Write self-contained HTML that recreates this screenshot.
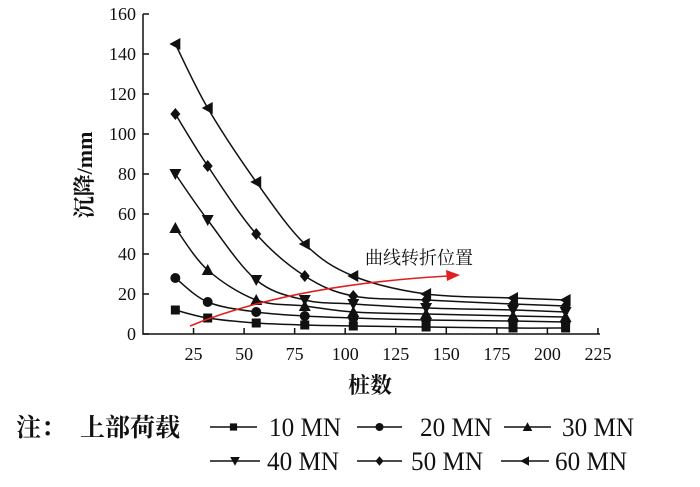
<!DOCTYPE html>
<html><head><meta charset="utf-8"><style>
body{margin:0;background:#fff}
svg text{font-family:"Liberation Serif","Noto Serif CJK SC",serif;fill:#111}
</style></head><body>
<svg id="c" width="700" height="482" viewBox="0 0 700 482"></svg>
<script>
const xs=[16,32,56,80,104,140,183,209];
const s10=[12,8,5.5,4.5,4,3.5,3,3];
const s20=[28,16,11,9,8,7,6.5,6];
const s30=[53,32,17,14,11,10,9,8.5];
const s40=[80,57,27,17,15,13,12,11];
const s50=[110,84,50,29,19,17,15,14];
const s60=[145,113,76,45,29,20,18,17];
const seriesNames=["10 MN","20 MN","30 MN","40 MN","50 MN","60 MN"];
const xTicks=[25,50,75,100,125,150,175,200,225];
const yTicks=[0,20,40,60,80,100,120,140,160];
const NS="http://www.w3.org/2000/svg";
const svg=document.getElementById('c');
const X=v=>143+v*2.022, Y=v=>334-v*2.0;
function mk(t,a,p){const e=document.createElementNS(NS,t);for(const k in a)e.setAttribute(k,a[k]);(p||svg).appendChild(e);return e;}
let ax=mk('path',{d:`M143,14V334H600`,fill:'none',stroke:'#111','stroke-width':1.5});


yTicks.forEach(v=>{mk('line',{x1:143,x2:149,y1:Y(v),y2:Y(v),stroke:'#111','stroke-width':1.5});
 const t=mk('text',{x:136,y:Y(v)+6,'text-anchor':'end','font-size':18});t.textContent=v;
 
 });
xTicks.forEach(v=>{mk('line',{x1:X(v),x2:X(v),y1:334,y2:328,stroke:'#111','stroke-width':1.5});
 const t=mk('text',{x:X(v),y:360,'text-anchor':'middle','font-size':18});t.textContent=v;
 
 });
let yt=mk('text',{x:0,y:0,transform:'translate(92,175) rotate(-90)','text-anchor':'middle','font-size':22,'font-weight':'bold'});yt.textContent='沉降/mm';


let xt=mk('text',{x:370,y:393,'text-anchor':'middle','font-size':22,'font-weight':'bold'});xt.textContent='桩数';


function curve(pts){let d=`M${pts[0][0]},${pts[0][1]}`;for(let i=0;i<pts.length-1;i++){const p0=pts[Math.max(i-1,0)],p1=pts[i],p2=pts[i+1],p3=pts[Math.min(i+2,pts.length-1)];
 d+=`C${p1[0]+(p2[0]-p0[0])/6},${p1[1]+(p2[1]-p0[1])/6} ${p2[0]-(p3[0]-p1[0])/6},${p2[1]-(p3[1]-p1[1])/6} ${p2[0]},${p2[1]}`;}return d;}
function marker(type,x,y,g,s){s=s||1;let e;
 if(type==0)e=mk('rect',{x:x-4.5*s,y:y-4.5*s,width:9*s,height:9*s,fill:'#111'},g);
 else if(type==1)e=mk('circle',{cx:x,cy:y,r:5*s,fill:'#111'},g);
 else if(type==2)e=mk('polygon',{points:`${x},${y-6*s} ${x+6*s},${y+5*s} ${x-6*s},${y+5*s}`,fill:'#111'},g);
 else if(type==3)e=mk('polygon',{points:`${x},${y+6*s} ${x+6*s},${y-5*s} ${x-6*s},${y-5*s}`,fill:'#111'},g);
 else if(type==4)e=mk('polygon',{points:`${x},${y-6*s} ${x+5*s},${y} ${x},${y+6*s} ${x-5*s},${y}`,fill:'#111'},g);
 else e=mk('polygon',{points:`${x-6*s},${y} ${x+5*s},${y-6*s} ${x+5*s},${y+6*s}`,fill:'#111'},g);
 return e;}
[s10,s20,s30,s40,s50,s60].forEach((s,k)=>{const g=mk('g',{});
 
 
 const pts=xs.map((x,i)=>[X(x),Y(s[i])]);
 mk('path',{d:curve(pts),fill:'none',stroke:'#111','stroke-width':1.5},g);
 pts.forEach(p=>{const m=marker(k,p[0],p[1],g);
  
  });});
const ag=mk('g',{});


mk('path',{d:'M190,326 Q290,285 448,276',fill:'none',stroke:'#e02020','stroke-width':1.6},ag);
mk('polygon',{points:'460,275 446,270 447,281',fill:'#e02020'},ag);
let an=mk('text',{x:365,y:264,'font-size':18});an.textContent='曲线转折位置';


const lg=mk('g',{});


let t1=mk('text',{x:16,y:436,'font-size':25,'font-weight':'bold'},lg);t1.textContent='注：';
let t2=mk('text',{x:80,y:436,'font-size':25,'font-weight':'bold'},lg);t2.textContent='上部荷载';
const lp=[[210,257,269,427],[357,402,420,427],[504,551,562,427],[210,260,267,461],[357,402,411,461],[501,549,555,461]];
seriesNames.forEach((n,k)=>{const e=mk('g',{},lg);
 
 
 const [x1,x2,tx,y]=lp[k];
 mk('line',{x1:x1,x2:x2,y1:y,y2:y,stroke:'#111','stroke-width':1.5},e);
 marker(k,(x1+x2)/2,y,e,0.8);
 const t=mk('text',{x:tx,y:y+9,'font-size':26,textLength:72,lengthAdjust:'spacingAndGlyphs'},e);t.textContent=n;});
</script>
</body></html>
